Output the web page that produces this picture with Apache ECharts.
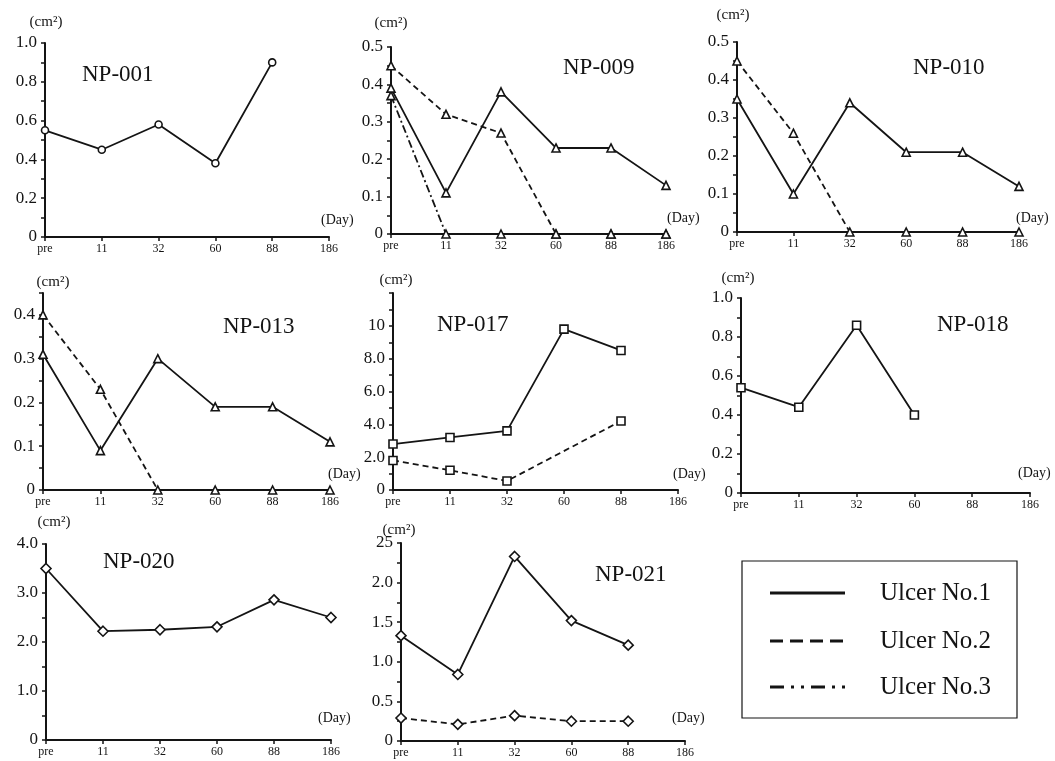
<!DOCTYPE html>
<html>
<head>
<meta charset="utf-8">
<script src="https://cdn.jsdelivr.net/npm/echarts@6/dist/echarts.min.js"></script>
<style>
  html, body { margin: 0; padding: 0; background: #fff; }
  #main { width: 1055px; height: 761px; }
</style>
</head>
<body>
<div id="main"></div>
<script>
// x categories (days)
const days = ['pre', '11', '32', '60', '88', '186'];

// ulcer area (cm2) per patient, one array per ulcer
const np001_u1 = [0.55, 0.45, 0.58, 0.38, 0.90, null];
const np009_u1 = [0.39, 0.11, 0.38, 0.23, 0.23, 0.13];
const np009_u2 = [0.45, 0.32, 0.27, 0, 0, 0];
const np009_u3 = [0.37, 0, 0, 0, 0, 0];
const np010_u1 = [0.35, 0.10, 0.34, 0.21, 0.21, 0.12];
const np010_u2 = [0.45, 0.26, 0, 0, 0, 0];
const np013_u1 = [0.31, 0.09, 0.30, 0.19, 0.19, 0.11];
const np013_u2 = [0.40, 0.23, 0, 0, 0, 0];
const np017_u1 = [2.8, 3.2, 3.6, 9.8, 8.5, null];
const np017_u2 = [1.8, 1.2, 0.55, null, 4.2, null];
const np018_u1 = [0.54, 0.44, 0.86, 0.40, null, null];
const np020_u1 = [3.5, 2.22, 2.25, 2.31, 2.86, 2.50];
const np021_u1 = [1.33, 0.84, 2.33, 1.52, 1.21, null];
const np021_u2 = [0.29, 0.21, 0.32, 0.25, 0.25, null];

// y tick labels as printed
const yt_1 = ['0', '0.2', '0.4', '0.6', '0.8', '1.0'];
const yt_05 = ['0', '0.1', '0.2', '0.3', '0.4', '0.5'];
const yt_013 = ['0', '0.1', '0.2', '0.3', '0.4'];
const yt_017 = ['0', '2.0', '4.0', '6.0', '8.0', '10'];
const yt_020 = ['0', '1.0', '2.0', '3.0', '4.0'];
const yt_021 = ['0', '0.5', '1.0', '1.5', '2.0', '25'];

const ulcerNames = ['Ulcer No.1', 'Ulcer No.2', 'Ulcer No.3'];

// layout of the eight small panels
const panels = [
  { name: 'NP-001', data: [np001_u1], ticks: yt_1, max: 1.0, step: 0.2, sym: 'circle', size: 7,
    grid: { left: 45, top: 43, width: 284, height: 194 }, title: [82, 75], cm: [46, 22], day: [321, 220] },
  { name: 'NP-009', data: [np009_u1, np009_u2, np009_u3], ticks: yt_05, max: 0.5, step: 0.1, sym: 'triangle', size: 8,
    grid: { left: 391, top: 47, width: 275, height: 187 }, title: [563, 68], cm: [391, 23], day: [667, 218] },
  { name: 'NP-010', data: [np010_u1, np010_u2], ticks: yt_05, max: 0.5, step: 0.1, sym: 'triangle', size: 8,
    grid: { left: 737, top: 42, width: 282, height: 190 }, title: [913, 68], cm: [733, 15], day: [1016, 218] },
  { name: 'NP-013', data: [np013_u1, np013_u2], ticks: yt_013, max: 0.45, step: 0.1, sym: 'triangle', size: 8,
    grid: { left: 43, top: 293, width: 287, height: 197 }, title: [223, 327], cm: [53, 282], day: [328, 474] },
  { name: 'NP-017', data: [np017_u1, np017_u2], ticks: yt_017, max: 12, step: 2, sym: 'rect', size: 8,
    grid: { left: 393, top: 293, width: 285, height: 197 }, title: [437, 325], cm: [396, 280], day: [673, 474] },
  { name: 'NP-018', data: [np018_u1], ticks: yt_1, max: 1.0, step: 0.2, sym: 'rect', size: 8,
    grid: { left: 741, top: 298, width: 289, height: 195 }, title: [937, 325], cm: [738, 278], day: [1018, 473] },
  { name: 'NP-020', data: [np020_u1], ticks: yt_020, max: 4, step: 1, sym: 'diamond', size: 10,
    grid: { left: 46, top: 544, width: 285, height: 196 }, title: [103, 562], cm: [54, 522], day: [318, 718] },
  { name: 'NP-021', data: [np021_u1, np021_u2], ticks: yt_021, max: 2.5, step: 0.5, sym: 'diamond', size: 10,
    grid: { left: 401, top: 543, width: 284, height: 198 }, title: [595, 575], cm: [399, 530], day: [672, 718] }
];

const FONT = '"Liberation Serif", "DejaVu Serif", serif';
const INK = '#141414';
const dashes = ['solid', [6, 4], [8, 3, 2, 3]];

const grids = [], xAxes = [], yAxes = [], series = [], graphics = [];

panels.forEach((p, i) => {
  grids.push(p.grid);
  xAxes.push({
    type: 'category', gridIndex: i, data: days, boundaryGap: false,
    axisLine: { lineStyle: { color: INK, width: 2 } },
    axisTick: { show: true, length: 4, lineStyle: { color: INK, width: 1.5 } },
    axisLabel: { interval: 0, color: INK, fontFamily: FONT, fontSize: 12, margin: 6 },
    splitLine: { show: false }
  });
  yAxes.push({
    type: 'value', gridIndex: i, min: 0, max: p.max, interval: p.step,
    axisLine: { show: true, lineStyle: { color: INK, width: 2 } },
    axisTick: { show: true, length: 4, lineStyle: { color: INK, width: 1.5 } },
    minorTick: { show: true, splitNumber: 2, length: 4, lineStyle: { color: INK, width: 1.5 } },
    splitLine: { show: false },
    axisLabel: {
      color: INK, fontFamily: FONT, fontSize: 17, margin: 8,
      formatter: v => {
        const k = Math.round(v / p.step);
        return Math.abs(k * p.step - v) < 1e-9 && p.ticks[k] !== undefined ? p.ticks[k] : '';
      }
    }
  });
  p.data.forEach((d, j) => {
    series.push({
      type: 'line', name: ulcerNames[j], xAxisIndex: i, yAxisIndex: i, data: d,
      connectNulls: true, symbol: p.sym, symbolSize: p.size, showAllSymbol: true,
      lineStyle: { color: INK, width: 1.8, type: dashes[j] },
      itemStyle: { color: '#fff', borderColor: INK, borderWidth: 1.6 },
      z: 3 - j, animation: false
    });
  });
  graphics.push(
    { type: 'text', x: p.title[0], y: p.title[1],
      style: { text: p.name, font: '23px ' + FONT, fill: INK, textAlign: 'left', align: 'left', textVerticalAlign: 'middle', verticalAlign: 'middle' } },
    { type: 'text', x: p.cm[0], y: p.cm[1],
      style: { text: '(cm²)', font: '15px ' + FONT, fill: INK, textAlign: 'center', align: 'center', textVerticalAlign: 'middle', verticalAlign: 'middle' } },
    { type: 'text', x: p.day[0], y: p.day[1],
      style: { text: '(Day)', font: '14px ' + FONT, fill: INK, textAlign: 'left', align: 'left', textVerticalAlign: 'middle', verticalAlign: 'middle' } }
  );
});

// legend box
const legendRows = [593, 641, 687];
graphics.push({ type: 'rect', shape: { x: 742, y: 561, width: 275, height: 157 },
  style: { fill: '#fff', stroke: INK, lineWidth: 1.2 } });
ulcerNames.forEach((n, j) => {
  graphics.push(
    { type: 'line', shape: { x1: 770, y1: legendRows[j], x2: 845, y2: legendRows[j] },
      style: { stroke: INK, lineWidth: 3, lineDash: j === 0 ? null : (j === 1 ? [13, 7] : [14, 7, 3, 7, 3, 7]) } },
    { type: 'text', x: 880, y: legendRows[j],
      style: { text: n, font: '25px ' + FONT, fill: INK, textAlign: 'left', align: 'left', textVerticalAlign: 'middle', verticalAlign: 'middle' } }
  );
});

const chart = echarts.init(document.getElementById('main'));
chart.setOption({
  animation: false,
  backgroundColor: '#fff',
  grid: grids,
  xAxis: xAxes,
  yAxis: yAxes,
  series: series,
  graphic: graphics
});
</script>
</body>
</html>
